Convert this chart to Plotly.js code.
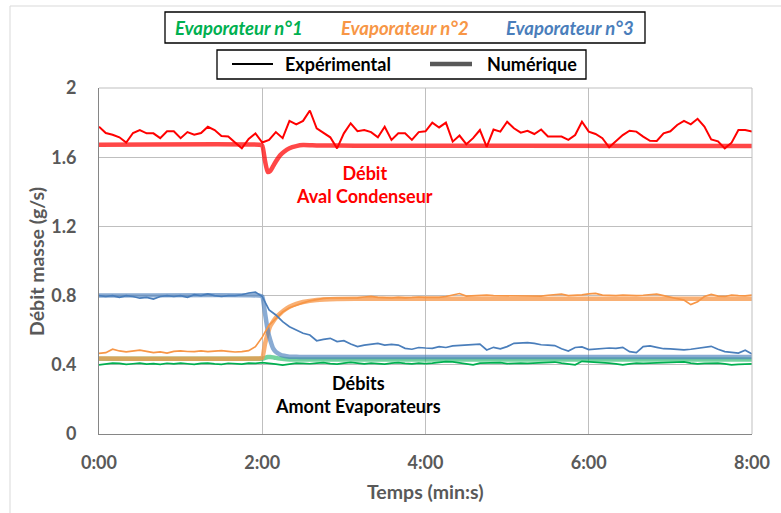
<!DOCTYPE html>
<html>
<head>
<meta charset="utf-8">
<script src="https://cdn.plot.ly/plotly-3.0.1.min.js"></script>
<style>html,body{margin:0;padding:0;background:#fff;}#chart{width:781px;height:513px;}</style>
</head>
<body>
<div id="chart"></div>
<script>
// ---- Data ----
// Experimental series, sampled every 5 s from 0:00 to 8:00
const redExp = [1.776,1.74,1.73,1.715,1.685,1.74,1.757,1.738,1.738,1.71,
 1.75,1.75,1.71,1.745,1.73,1.74,1.776,1.757,1.723,1.72,
 1.685,1.651,1.706,1.738,1.685,1.70,1.745,1.71,1.81,1.79,
 1.81,1.87,1.767,1.74,1.715,1.651,1.738,1.796,1.75,1.757,
 1.745,1.715,1.776,1.70,1.738,1.738,1.70,1.745,1.75,1.80,
 1.772,1.80,1.69,1.725,1.675,1.71,1.757,1.66,1.76,1.748,
 1.805,1.767,1.742,1.753,1.734,1.76,1.72,1.719,1.719,1.70,
 1.728,1.805,1.748,1.734,1.71,1.657,1.69,1.728,1.753,1.748,
 1.719,1.695,1.694,1.738,1.75,1.786,1.81,1.79,1.822,1.777,
 1.703,1.692,1.651,1.684,1.757,1.757,1.748];
const blueExp = [0.80,0.795,0.80,0.79,0.80,0.795,0.785,0.79,0.78,0.795,
 0.80,0.795,0.80,0.79,0.805,0.80,0.81,0.80,0.795,0.80,
 0.80,0.805,0.815,0.82,0.795,0.717,0.688,0.649,0.62,0.601,
 0.582,0.572,0.539,0.547,0.553,0.534,0.539,0.52,0.505,0.514,
 0.52,0.524,0.514,0.518,0.514,0.495,0.49,0.50,0.497,0.495,
 0.505,0.50,0.509,0.512,0.514,0.516,0.52,0.486,0.501,0.492,
 0.505,0.524,0.526,0.528,0.524,0.516,0.514,0.511,0.493,0.48,
 0.50,0.503,0.488,0.492,0.493,0.497,0.495,0.501,0.476,0.47,
 0.505,0.509,0.501,0.493,0.492,0.49,0.486,0.49,0.497,0.501,
 0.507,0.49,0.476,0.472,0.468,0.484,0.462];
const orangeExp = [0.466,0.47,0.49,0.48,0.475,0.48,0.485,0.478,0.47,0.475,
 0.468,0.478,0.48,0.477,0.476,0.48,0.476,0.479,0.482,0.478,
 0.474,0.476,0.482,0.505,0.56,0.63,0.665,0.705,0.73,0.745,
 0.758,0.77,0.778,0.784,0.786,0.786,0.79,0.788,0.787,0.792,
 0.795,0.79,0.788,0.786,0.79,0.787,0.789,0.792,0.79,0.79,
 0.79,0.795,0.802,0.812,0.797,0.80,0.80,0.803,0.80,0.799,
 0.80,0.798,0.80,0.798,0.796,0.797,0.802,0.806,0.808,0.80,
 0.80,0.804,0.81,0.813,0.803,0.80,0.80,0.803,0.801,0.80,
 0.802,0.803,0.808,0.80,0.79,0.782,0.775,0.748,0.765,0.795,
 0.807,0.797,0.795,0.803,0.80,0.798,0.803];
const greenExp = [0.40,0.405,0.41,0.408,0.402,0.406,0.41,0.404,0.407,0.403,
 0.409,0.405,0.41,0.406,0.402,0.408,0.41,0.405,0.403,0.409,
 0.406,0.404,0.41,0.408,0.412,0.41,0.404,0.398,0.405,0.41,
 0.408,0.406,0.41,0.413,0.407,0.404,0.41,0.414,0.41,0.405,
 0.41,0.408,0.404,0.41,0.412,0.408,0.405,0.41,0.407,0.41,
 0.415,0.418,0.417,0.41,0.405,0.40,0.41,0.41,0.41,0.413,
 0.407,0.41,0.41,0.408,0.41,0.408,0.412,0.416,0.41,0.405,
 0.40,0.42,0.418,0.415,0.412,0.41,0.405,0.40,0.405,0.41,
 0.408,0.41,0.41,0.41,0.412,0.415,0.417,0.41,0.405,0.408,
 0.41,0.41,0.405,0.40,0.403,0.406,0.405];
const expStep = 5; // seconds between experimental samples

// Numerical series (times in seconds)
const numT      = [0,118,120,122,124,126,128,130,133,136,140,145,150,160,175,200,300,480];
const redNum    = [1.672,1.672,1.668,1.58,1.515,1.522,1.548,1.575,1.61,1.632,1.652,1.664,1.67,1.668,1.667,1.666,1.666,1.665];
const blueNum   = [0.80,0.80,0.795,0.70,0.60,0.54,0.495,0.475,0.46,0.452,0.447,0.446,0.445,0.445,0.445,0.445,0.445,0.445];
const orangeNum = [0.437,0.437,0.44,0.52,0.58,0.625,0.65,0.672,0.695,0.715,0.735,0.752,0.763,0.775,0.78,0.782,0.782,0.782];
const greenNum  = [0.435,0.435,0.435,0.44,0.445,0.445,0.443,0.44,0.436,0.433,0.431,0.43,0.43,0.43,0.43,0.43,0.43,0.43];

// Axis ticks
const xTickVals = [0,120,240,360,480];
const xTickText = ['0:00','2:00','4:00','6:00','8:00'];
const yTickVals = [0,0.4,0.8,1.2,1.6,2];
const yTickText = ['0','0.4','0.8','1.2','1.6','2'];

// ---- Styling ----
const C = {red:'#ff0000', blue:'#4a7ebb', orange:'#f79646', green:'#00b050'};
const F = 'Lato, "Open Sans", sans-serif';
const expT = redExp.map((_, i) => i * expStep);

function numTrace(y, color){
  return {x:numT, y:y, type:'scatter', mode:'lines', showlegend:false, hoverinfo:'skip',
          line:{color:color, width:4.5, shape:'spline', smoothing:0.5}};
}
function expTrace(y, color, w){
  return {x:expT, y:y, type:'scatter', mode:'lines', showlegend:false, hoverinfo:'skip',
          line:{color:color, width:w}};
}

const traces = [
  numTrace(greenNum, 'rgba(0,176,80,0.55)'),
  numTrace(orangeNum, 'rgba(247,150,70,0.75)'),
  numTrace(blueNum, 'rgba(74,126,187,0.65)'),
  numTrace(redNum, 'rgba(255,0,0,0.72)'),
  expTrace(greenExp, C.green, 1.7),
  expTrace(orangeExp, C.orange, 1.7),
  expTrace(blueExp, C.blue, 1.7),
  expTrace(redExp, C.red, 2)
];

// pixel -> paper helpers (plot area 99..752 x 88..434)
const L=99, R=752, T=88, B=434;
const px = v => (v - L) / (R - L);
const py = v => (B - v) / (B - T);

const lf = {family:F, size:18, weight:'bold'};
const layout = {
  width:781, height:513,
  margin:{l:L, r:781-R, t:T, b:513-B, pad:0},
  paper_bgcolor:'#ffffff', plot_bgcolor:'#ffffff',
  font:{family:F},
  xaxis:{range:[0,480], tickvals:xTickVals, ticktext:xTickText, showgrid:true, gridcolor:'#bfbfbf', gridwidth:1,
         showline:true, linecolor:'#868686', linewidth:1, ticks:'', zeroline:false, fixedrange:true,
         ticklabelstandoff:12, tickfont:{family:F, size:18, color:'#595959', weight:'bold'}},
  yaxis:{range:[0,2], tickvals:yTickVals, ticktext:yTickText, showgrid:true, gridcolor:'#bfbfbf', gridwidth:1,
         showline:true, linecolor:'#868686', linewidth:1, ticks:'', zeroline:false, fixedrange:true,
         ticklabelstandoff:18, tickfont:{family:F, size:18, color:'#595959', weight:'bold'}},
  shapes:[
    // outer chart border (top & left visible)
    {type:'line', xref:'paper', yref:'paper', x0:px(10), x1:px(800), y0:py(6), y1:py(6), line:{color:'#d9d9d9', width:1}},
    {type:'line', xref:'paper', yref:'paper', x0:px(10), x1:px(10), y0:py(6), y1:py(530), line:{color:'#d9d9d9', width:1}},
    // top and right border of plot
    {type:'line', xref:'paper', yref:'paper', x0:0, x1:1, y0:1, y1:1, line:{color:'#bfbfbf', width:1}},
    {type:'line', xref:'paper', yref:'paper', x0:1, x1:1, y0:0, y1:1, line:{color:'#bfbfbf', width:1}},
    // legend box 1
    {type:'rect', xref:'paper', yref:'paper', x0:px(165), x1:px(645), y0:py(43), y1:py(12), line:{color:'#000', width:1.3}, fillcolor:'#fff'},
    // legend box 2
    {type:'rect', xref:'paper', yref:'paper', x0:px(217), x1:px(586), y0:py(79), y1:py(50), line:{color:'#000', width:1.3}, fillcolor:'#fff'},
    {type:'line', xref:'paper', yref:'paper', x0:px(232), x1:px(273), y0:py(64), y1:py(64), line:{color:'#000', width:1.8}},
    {type:'line', xref:'paper', yref:'paper', x0:px(430), x1:px(472), y0:py(64), y1:py(64), line:{color:'#595959', width:4.5}}
  ],
  annotations:[
    {xref:'paper', yref:'paper', x:px(238.5), y:py(28), text:'Evaporateur n°1', showarrow:false, xanchor:'center', yanchor:'middle',
     font:{family:F, size:18.5, color:C.green, weight:'bold', style:'italic'}},
    {xref:'paper', yref:'paper', x:px(404.5), y:py(28), text:'Evaporateur n°2', showarrow:false, xanchor:'center', yanchor:'middle',
     font:{family:F, size:18.5, color:C.orange, weight:'bold', style:'italic'}},
    {xref:'paper', yref:'paper', x:px(569.5), y:py(28), text:'Evaporateur n°3', showarrow:false, xanchor:'center', yanchor:'middle',
     font:{family:F, size:18.5, color:C.blue, weight:'bold', style:'italic'}},
    {xref:'paper', yref:'paper', x:px(338), y:py(64), text:'Expérimental', showarrow:false, xanchor:'center', yanchor:'middle',
     font:Object.assign({color:'#000'}, lf)},
    {xref:'paper', yref:'paper', x:px(532), y:py(64), text:'Numérique', showarrow:false, xanchor:'center', yanchor:'middle',
     font:Object.assign({color:'#000'}, lf)},
    {xref:'x', yref:'y', x:195.5, y:1.442, text:'Débit<br>Aval Condenseur', showarrow:false, xanchor:'center', yanchor:'middle',
     font:Object.assign({color:C.red}, lf)},
    {xref:'x', yref:'y', x:190.4, y:0.228, text:'Débits<br>Amont Evaporateurs', showarrow:false, xanchor:'center', yanchor:'middle',
     font:Object.assign({color:'#000'}, lf)},
    {xref:'paper', yref:'paper', x:px(36), y:py(262), text:'Débit masse (g/s)', textangle:-90, showarrow:false, xanchor:'center', yanchor:'middle',
     font:{family:F, size:19.5, color:'#595959', weight:'bold'}},
    {xref:'paper', yref:'paper', x:px(425), y:py(491), text:'Temps (min:s)', showarrow:false, xanchor:'center', yanchor:'middle',
     font:{family:F, size:19.5, color:'#595959', weight:'bold'}}
  ]
};

Plotly.newPlot('chart', traces, layout, {displayModeBar:false, staticPlot:true});
</script>
</body>
</html>
